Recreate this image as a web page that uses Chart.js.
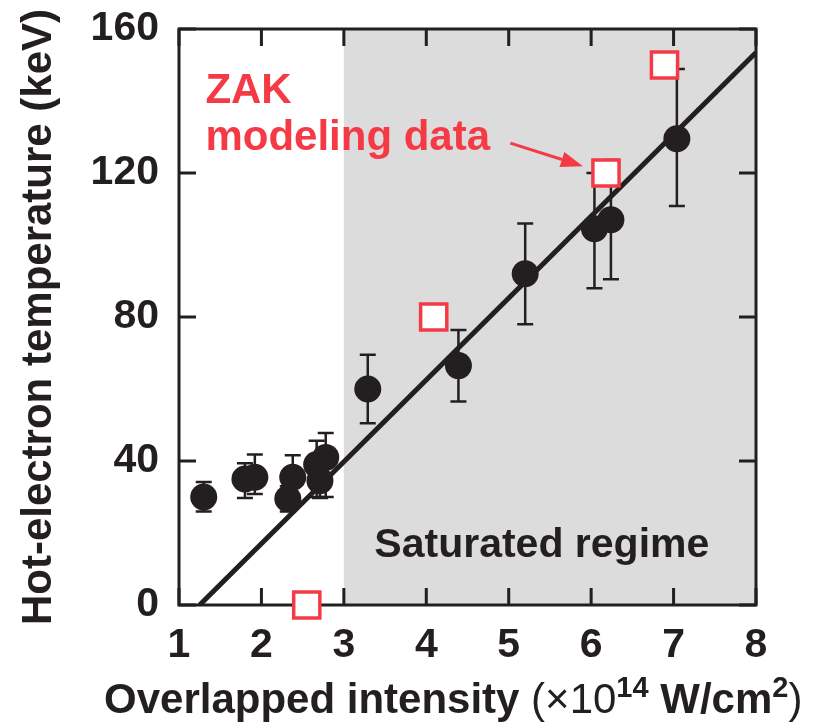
<!DOCTYPE html>
<html>
<head>
<meta charset="utf-8">
<title>Hot-electron temperature vs overlapped intensity</title>
<script src="https://cdn.jsdelivr.net/npm/chart.js@4.4.1/dist/chart.umd.min.js"></script>
<style>
  html, body { margin: 0; padding: 0; background: #fff; }
  canvas { display: block; }
</style>
</head>
<body>
<canvas id="myChart" width="826" height="725"></canvas>
<script>
// measured hot-electron temperatures (intensity in 1e14 W/cm^2, temperature in keV)
const intensity   = [1.30, 1.80, 1.92, 2.32, 2.38, 2.67, 2.71, 2.78, 3.29, 4.39, 5.20, 6.04, 6.24, 7.04];
const temperature = [30, 35, 35.5, 29.5, 35.5, 39, 34.5, 41, 60, 66.5, 92, 104.5, 107, 129.5];
const tempLow     = [26, 29.7, 30.8, 26, 30, 30, 29.7, 30, 50.5, 56.5, 78, 88, 90.5, 110.8];
const tempHigh    = [34.2, 39.4, 41.8, 33, 41.6, 45.6, 39, 47.8, 69.5, 76.4, 106, 120, 123.6, 148.9];

// ZAK modeling results
const zakIntensity   = [2.55, 4.09, 6.18, 6.89];
const zakTemperature = [0, 80, 120, 150];

// straight-line fit through the measurements
const fitIntensity   = [1.25, 8];
const fitTemperature = [0, 153.5];

// intensity above which the temperature is saturated
const saturatedFrom = 3;

const BLACK = "#231f20";
const RED = "#f43b45";
const FONT = "'Liberation Sans', Arial, Helvetica, sans-serif";

Chart.defaults.font.family = FONT;
Chart.defaults.color = BLACK;

const toPoints = (xs, ys) => xs.map((v, i) => ({ x: v, y: ys[i] }));

const framePlugin = {
  id: "frame",
  beforeDatasetsDraw(chart) {
    const { ctx, chartArea: a, scales: { x, y } } = chart;
    ctx.save();
    // grey band for the saturated regime
    const xs = x.getPixelForValue(saturatedFrom);
    ctx.fillStyle = "#dcdcdc";
    ctx.fillRect(xs, a.top, a.right - xs, a.bottom - a.top);

    // box with inward ticks on all four sides
    ctx.strokeStyle = BLACK;
    ctx.lineWidth = 3;
    ctx.strokeRect(a.left, a.top, a.right - a.left, a.bottom - a.top);
    const len = 17;
    ctx.beginPath();
    x.ticks.forEach((t) => {
      const px = x.getPixelForValue(t.value);
      ctx.moveTo(px, a.bottom); ctx.lineTo(px, a.bottom - len);
      ctx.moveTo(px, a.top); ctx.lineTo(px, a.top + len);
    });
    y.ticks.forEach((t) => {
      const py = y.getPixelForValue(t.value);
      ctx.moveTo(a.left, py); ctx.lineTo(a.left + len, py);
      ctx.moveTo(a.right, py); ctx.lineTo(a.right - len, py);
    });
    ctx.stroke();

    // error bars
    ctx.lineWidth = 2.5;
    const cap = 8;
    intensity.forEach((v, i) => {
      const px = x.getPixelForValue(v);
      const lo = y.getPixelForValue(tempLow[i]);
      const hi = y.getPixelForValue(tempHigh[i]);
      ctx.beginPath();
      ctx.moveTo(px, lo); ctx.lineTo(px, hi);
      ctx.moveTo(px - cap, lo); ctx.lineTo(px + cap, lo);
      ctx.moveTo(px - cap, hi); ctx.lineTo(px + cap, hi);
      ctx.stroke();
    });
    ctx.restore();
  },
  afterDatasetsDraw(chart) {
    const { ctx, scales: { x, y } } = chart;
    ctx.save();
    ctx.textAlign = "left";
    ctx.textBaseline = "alphabetic";

    ctx.fillStyle = BLACK;
    ctx.font = "bold 41px " + FONT;
    ctx.fillText("Saturated regime", x.getPixelForValue(3.37), y.getPixelForValue(13.3));

    ctx.fillStyle = RED;
    ctx.font = "bold 42px " + FONT;
    ctx.fillText("ZAK", x.getPixelForValue(1.32), y.getPixelForValue(139.4));
    ctx.fillText("modeling data", x.getPixelForValue(1.32), y.getPixelForValue(126.4));

    // arrow pointing at the ZAK point
    const x0 = x.getPixelForValue(5.02), y0 = y.getPixelForValue(128.3);
    const x1 = x.getPixelForValue(5.90), y1 = y.getPixelForValue(121.9);
    const ang = Math.atan2(y1 - y0, x1 - x0);
    const head = 22, half = 8;
    const bx = x1 - head * Math.cos(ang), by = y1 - head * Math.sin(ang);
    ctx.strokeStyle = RED;
    ctx.lineWidth = 3;
    ctx.beginPath();
    ctx.moveTo(x0, y0);
    ctx.lineTo(bx, by);
    ctx.stroke();
    ctx.beginPath();
    ctx.moveTo(x1, y1);
    ctx.lineTo(bx + half * Math.sin(ang), by - half * Math.cos(ang));
    ctx.lineTo(bx - half * Math.sin(ang), by + half * Math.cos(ang));
    ctx.closePath();
    ctx.fill();
    ctx.restore();
  },
  afterDraw(chart) {
    // x-axis title with superscripts
    const { ctx } = chart;
    const parts = [
      { t: "Overlapped intensity ", f: "bold 42px", dy: 0 },
      { t: "(\u00d710", f: "42px", dy: 0 },
      { t: "14", f: "bold 29px", dy: -16 },
      { t: " W/cm", f: "bold 42px", dy: 0 },
      { t: "2", f: "bold 29px", dy: -16 },
      { t: ")", f: "42px", dy: 0 },
    ];
    ctx.save();
    ctx.fillStyle = BLACK;
    ctx.textAlign = "left";
    ctx.textBaseline = "alphabetic";
    let px = 104;
    const base = 713;
    parts.forEach((p) => {
      ctx.font = p.f + " " + FONT;
      ctx.fillText(p.t, px, base + p.dy);
      px += ctx.measureText(p.t).width;
    });
    ctx.restore();
  },
};

const tickFont = { size: 41, weight: "bold" };

new Chart(document.getElementById("myChart"), {
  type: "scatter",
  data: {
    datasets: [
      {
        label: "ZAK modeling data",
        data: toPoints(zakIntensity, zakTemperature),
        pointStyle: "rect",
        pointRadius: 18.5,
        pointBorderWidth: 3.5,
        borderColor: RED,
        backgroundColor: "#ffffff",
        clip: false,
      },
      {
        label: "Measured",
        data: toPoints(intensity, temperature),
        pointRadius: 13.5,
        borderWidth: 0,
        backgroundColor: BLACK,
        borderColor: BLACK,
      },
      {
        label: "Fit",
        type: "line",
        data: toPoints(fitIntensity, fitTemperature),
        borderColor: BLACK,
        borderWidth: 5,
        pointRadius: 0,
        fill: false,
      },
    ],
  },
  options: {
    responsive: false,
    animation: false,
    devicePixelRatio: 1,
    layout: { padding: { top: 29, right: 70, left: 0, bottom: 0 } },
    plugins: { legend: { display: false }, tooltip: { enabled: false } },
    scales: {
      x: {
        type: "linear",
        min: 1,
        max: 8,
        grid: { display: false },
        border: { display: false },
        ticks: { stepSize: 1, padding: 8, color: BLACK, font: tickFont, maxRotation: 0 },
        afterFit: (scale) => { scale.height = 120; },
      },
      y: {
        type: "linear",
        min: 0,
        max: 160,
        grid: { display: false },
        border: { display: false },
        ticks: { stepSize: 40, padding: 12, color: BLACK, font: tickFont },
        title: {
          display: true,
          text: "Hot-electron temperature (keV)",
          color: BLACK,
          font: { size: 42, weight: "bold" },
          padding: { top: 14, bottom: 0 },
        },
        afterFit: (scale) => {
          scale.width = 179;
          // labels may overhang the plot box; keep the box at its own size
          scale.paddingTop = 0;
          scale.paddingBottom = 0;
        },
      },
    },
  },
  plugins: [framePlugin],
});
</script>
</body>
</html>
